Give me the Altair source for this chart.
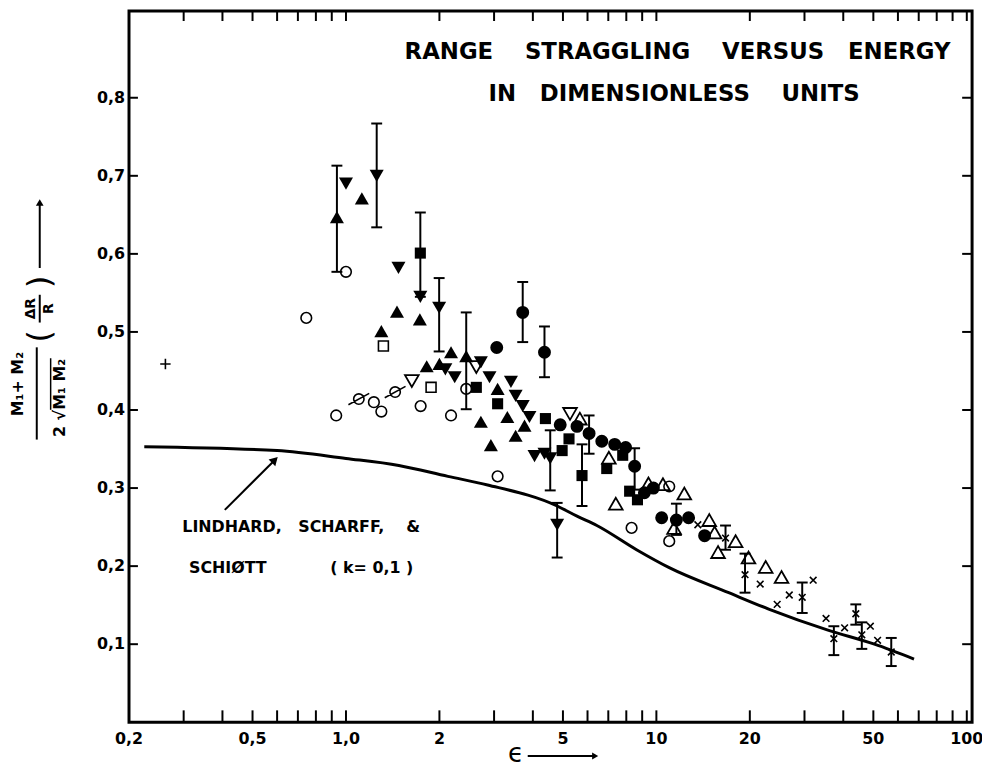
import altair as alt
import pandas as pd

FONT = "DejaVu Sans"

# ---------------- data ----------------
tri_up_filled_eps = [0.935, 1.125, 1.30, 1.46, 1.73, 1.82, 2.0, 2.18, 2.44, 2.72, 2.93, 3.08, 3.31, 3.52, 3.76]
tri_up_filled_val = [0.647, 0.671, 0.501, 0.526, 0.516, 0.456, 0.459, 0.474, 0.469, 0.385, 0.355, 0.427, 0.391, 0.367, 0.380]

tri_dn_filled_eps = [1.0, 1.256, 1.476, 1.736, 1.996, 2.09, 2.24, 2.72, 2.90, 3.40, 3.52, 3.71, 3.90, 4.05, 4.36, 4.55, 4.79]
tri_dn_filled_val = [0.690, 0.700, 0.582, 0.545, 0.531, 0.452, 0.442, 0.461, 0.442, 0.436, 0.418, 0.405, 0.391, 0.341, 0.344, 0.338, 0.253]

sq_filled_eps = [1.736, 2.63, 3.08, 4.39, 4.97, 5.23, 5.76, 6.92, 7.79, 8.20, 8.69]
sq_filled_val = [0.601, 0.429, 0.408, 0.389, 0.348, 0.363, 0.316, 0.325, 0.342, 0.296, 0.285]

circ_filled_eps = [3.06, 3.71, 4.36, 4.90, 5.55, 6.07, 6.67, 7.34, 7.96, 8.51, 9.15, 9.78, 10.4, 11.6, 12.7, 14.3]
circ_filled_val = [0.480, 0.525, 0.474, 0.381, 0.379, 0.370, 0.360, 0.356, 0.352, 0.328, 0.294, 0.300, 0.262, 0.259, 0.262, 0.239]

circ_open_eps = [0.745, 1.0, 0.93, 1.23, 1.30, 1.74, 2.18, 2.44, 3.08, 8.32, 11.0, 11.0]
circ_open_val = [0.518, 0.577, 0.393, 0.410, 0.398, 0.405, 0.393, 0.427, 0.315, 0.249, 0.302, 0.232]

sq_open_eps = [1.32, 1.88]
sq_open_val = [0.482, 0.429]

tri_up_open_eps = [5.67, 7.03, 7.40, 9.43, 10.5, 11.4, 12.3, 14.8, 15.4, 15.8, 18.0, 19.8, 22.5, 25.3]
tri_up_open_val = [0.389, 0.339, 0.280, 0.306, 0.305, 0.249, 0.293, 0.259, 0.243, 0.218, 0.232, 0.211, 0.199, 0.186]

tri_dn_open_eps = [1.63, 2.63, 5.27]
tri_dn_open_val = [0.437, 0.455, 0.395]

circ_slash_eps = [1.10, 1.44]
circ_slash_val = [0.414, 0.423]

x_mark_eps = [13.6, 16.7, 19.3, 21.6, 24.5, 26.8, 29.5, 32.0, 35.2, 37.3, 40.4, 43.9, 45.9, 48.9, 51.6, 57.1]
x_mark_val = [0.253, 0.236, 0.189, 0.177, 0.151, 0.163, 0.160, 0.182, 0.133, 0.107, 0.121, 0.139, 0.112, 0.123, 0.105, 0.090]

plus_eps = [0.262]
plus_val = [0.459]

err_eps = [0.935, 1.256, 1.736, 1.996, 2.44, 3.71, 4.36, 4.55, 4.79, 5.76, 6.07, 8.51, 11.6,
           16.7, 19.3, 29.5, 37.3, 43.9, 45.9, 57.1]
err_lo = [0.577, 0.634, 0.545, 0.475, 0.401, 0.487, 0.442, 0.297, 0.211, 0.277, 0.344, 0.298, 0.240,
          0.221, 0.166, 0.140, 0.086, 0.125, 0.094, 0.072]
err_hi = [0.713, 0.767, 0.653, 0.569, 0.525, 0.564, 0.507, 0.374, 0.281, 0.356, 0.393, 0.351, 0.280,
          0.252, 0.216, 0.179, 0.123, 0.151, 0.128, 0.108]

# Lindhard, Scharff & Schiott theory curve (k = 0.1)
theory_eps = [0.224, 0.6, 1.0, 1.48, 2.13, 2.86, 4.79, 5.55, 6.43, 8.63, 11.0, 17.1, 23.0, 35.7, 50.4, 67.6]
theory_val = [0.353, 0.348, 0.338, 0.329, 0.315, 0.304, 0.277, 0.264, 0.252, 0.221, 0.198, 0.166, 0.145, 0.118, 0.100, 0.081]

# axes
x_label_values = [0.2, 0.5, 1, 2, 5, 10, 20, 50, 100]
x_label_text = ["0,2", "0,5", "1,0", "2", "5", "10", "20", "50", "100"]
y_label_values = [0.1, 0.2, 0.3, 0.4, 0.5, 0.6, 0.7, 0.8]
y_label_text = ["0,1", "0,2", "0,3", "0,4", "0,5", "0,6", "0,7", "0,8"]
x_tick_values = [0.3, 0.4, 0.5, 0.6, 0.7, 0.8, 0.9, 1, 2, 3, 4, 5, 6, 7, 8, 9,
                 10, 20, 30, 40, 50, 60, 70, 80, 90, 100]
y_tick_values = [0.1, 0.2, 0.3, 0.4, 0.5, 0.6, 0.7, 0.8]

title_lines = ["RANGE\u00a0\u00a0\u00a0\u00a0STRAGGLING\u00a0\u00a0\u00a0\u00a0VERSUS\u00a0\u00a0\u00a0ENERGY",
               "IN\u00a0\u00a0\u00a0DIMENSIONLESS\u00a0\u00a0\u00a0\u00a0UNITS"]
lss_line1 = "LINDHARD,\u00a0\u00a0\u00a0SCHARFF,\u00a0\u00a0\u00a0\u00a0&"
lss_line2 = "SCHI\u00d8TT"
lss_k = "(\u00a0k=\u00a00,1\u00a0)"

# ---------------- chart ----------------
W, H = 850, 717
xs = alt.Scale(type="log", domain=[0.2, 104], nice=False)
ys = alt.Scale(domain=[0, 0.911], nice=False, zero=False)

theory_df = pd.DataFrame({"eps": theory_eps, "val": theory_val})
curve = alt.Chart(theory_df).mark_line(color="black", strokeWidth=3, interpolate="monotone").encode(
    x=alt.X("eps:Q", scale=xs, axis=None),
    y=alt.Y("val:Q", scale=ys, axis=None),
)


def pts(eps, val, shape, filled, size, sw=1.6):
    df = pd.DataFrame({"eps": eps, "val": val})
    return alt.Chart(df).mark_point(shape=shape, filled=filled, size=size, color="black",
                                    strokeWidth=sw, opacity=1).encode(
        x=alt.X("eps:Q", scale=xs, axis=None),
        y=alt.Y("val:Q", scale=ys, axis=None),
    )


X_PATH = "M-1,-1L1,1M-1,1L1,-1"
PLUS_PATH = "M-1,0L1,0M0,-1L0,1"
SLASH_CIRCLE = "M1,0A1,1,0,1,1,-1,0A1,1,0,1,1,1,0M-2,1.1L2,-1.1"

markers = [
    pts(tri_up_filled_eps, tri_up_filled_val, "triangle-up", True, 200),
    pts(tri_dn_filled_eps, tri_dn_filled_val, "triangle-down", True, 200),
    pts(sq_filled_eps, sq_filled_val, "square", True, 125),
    pts(circ_filled_eps, circ_filled_val, "circle", True, 170),
    pts(circ_open_eps, circ_open_val, "circle", False, 115),
    pts(sq_open_eps, sq_open_val, "square", False, 100),
    pts(tri_up_open_eps, tri_up_open_val, "triangle-up", False, 190, 1.8),
    pts(tri_dn_open_eps, tri_dn_open_val, "triangle-down", False, 190, 1.8),
    pts(circ_slash_eps, circ_slash_val, SLASH_CIRCLE, False, 110, 1.6),
    pts(x_mark_eps, x_mark_val, X_PATH, False, 45, 1.6),
    pts(plus_eps, plus_val, PLUS_PATH, False, 110, 1.6),
]

err_df = pd.DataFrame({"eps": err_eps, "lo": err_lo, "hi": err_hi})
err_rule = alt.Chart(err_df).mark_rule(color="black", strokeWidth=2).encode(
    x=alt.X("eps:Q", scale=xs, axis=None),
    y=alt.Y("lo:Q", scale=ys, axis=None),
    y2="hi:Q",
)
err_cap_lo = alt.Chart(err_df).mark_tick(color="black", orient="horizontal", size=11, thickness=2, opacity=1).encode(
    x=alt.X("eps:Q", scale=xs, axis=None),
    y=alt.Y("lo:Q", scale=ys, axis=None),
)
err_cap_hi = alt.Chart(err_df).mark_tick(color="black", orient="horizontal", size=11, thickness=2, opacity=1).encode(
    x=alt.X("eps:Q", scale=xs, axis=None),
    y=alt.Y("hi:Q", scale=ys, axis=None),
)

# inward-pointing ticks on all four sides, and tick labels
xt_df = pd.DataFrame({"t": x_tick_values})
yt_df = pd.DataFrame({"t": y_tick_values})
tick_bottom = alt.Chart(xt_df).mark_rule(color="black", strokeWidth=2).encode(
    x=alt.X("t:Q", scale=xs, axis=None), y=alt.value(H), y2=alt.value(H - 12))
tick_top = alt.Chart(xt_df).mark_rule(color="black", strokeWidth=2).encode(
    x=alt.X("t:Q", scale=xs, axis=None), y=alt.value(0), y2=alt.value(10))
tick_left = alt.Chart(yt_df).mark_rule(color="black", strokeWidth=2).encode(
    y=alt.Y("t:Q", scale=ys, axis=None), x=alt.value(0), x2=alt.value(9))
tick_right = alt.Chart(yt_df).mark_rule(color="black", strokeWidth=2).encode(
    y=alt.Y("t:Q", scale=ys, axis=None), x=alt.value(W), x2=alt.value(W - 10))

xl_df = pd.DataFrame({"v": x_label_values, "lab": x_label_text})
yl_df = pd.DataFrame({"v": y_label_values, "lab": y_label_text})
x_labels = alt.Chart(xl_df).mark_text(font=FONT, fontSize=16, fontWeight="bold", color="black",
                                      align="center", baseline="middle").encode(
    x=alt.X("v:Q", scale=xs, axis=None), y=alt.value(H + 17), text="lab:N")
y_labels = alt.Chart(yl_df).mark_text(font=FONT, fontSize=16, fontWeight="bold", color="black",
                                      align="right", baseline="middle").encode(
    y=alt.Y("v:Q", scale=ys, axis=None), x=alt.value(-4), text="lab:N")

one = pd.DataFrame({"a": [0]})


def dx(v):
    return alt.XDatum(v, type="quantitative", scale=xs, axis=None)


def dy(v):
    return alt.YDatum(v, type="quantitative", scale=ys, axis=None)


def text_at(txt, size, align="center", weight="bold"):
    return alt.Chart(one).mark_text(text=txt, font=FONT, fontSize=size, fontWeight=weight,
                                    align=align, baseline="middle", color="black")


# titles / annotations inside plot (positioned in data units through the scales)
title1 = text_at(title_lines[0], 23).encode(x=dx(11.7), y=dy(0.859))
title2 = text_at(title_lines[1], 23).encode(x=dx(11.4), y=dy(0.805))
lss1 = text_at(lss_line1, 16, align="left").encode(x=dx(0.297), y=dy(0.250))
lss2 = text_at(lss_line2, 16, align="left").encode(x=dx(0.312), y=dy(0.197))
lss3 = text_at(lss_k, 16, align="left").encode(x=dx(0.89), y=dy(0.197))
arrow_line = alt.Chart(one).mark_rule(color="black", strokeWidth=2).encode(
    x=dx(0.407), y=dy(0.272), x2=alt.X2Datum(0.59), y2=alt.Y2Datum(0.336))
arrow_head = alt.Chart(one).mark_point(shape="triangle-up", filled=True, size=90, angle=45,
                                       color="black", opacity=1).encode(x=dx(0.59), y=dy(0.336))


# y-axis title (outside plot, pixel positions relative to plot origin)
def ytxt(x, y, txt, size, weight="bold"):
    return alt.Chart(one).mark_text(text=txt, font=FONT, fontSize=size, fontWeight=weight,
                                    align="center", baseline="middle", color="black",
                                    angle=270).encode(x=alt.value(x), y=alt.value(y))


def prule(x1, y1, x2, y2, w=2):
    return alt.Chart(one).mark_rule(color="black", strokeWidth=w).encode(
        x=alt.value(x1), y=alt.value(y1), x2=alt.value(x2), y2=alt.value(y2))


ytitle = [
    ytxt(-112, 376, "M\u2081+ M\u2082", 16),
    prule(-93, 339, -93, 432),
    ytxt(-70, 390, "2 \u221aM\u2081 M\u2082", 16),
    prule(-79, 350, -79, 402, 1.5),
    ytxt(-99, 300, "\u0394R", 14),
    prule(-90, 286, -90, 314),
    ytxt(-81, 300, "R", 14),
    ytxt(-90, 328, "(", 32, "normal"),
    ytxt(-90, 273, ")", 32, "normal"),
    prule(-90, 259, -90, 195),
    alt.Chart(one).mark_point(shape="triangle-up", filled=True, size=60, color="black",
                              opacity=1).encode(x=alt.value(-90), y=alt.value(193)),
]

# x-axis title: epsilon with arrow (below the tick labels)
xtitle = [
    alt.Chart(one).mark_text(text="\u03f5", font=FONT, fontSize=26, color="black",
                             align="center", baseline="middle").encode(x=alt.value(390), y=alt.value(749)),
    prule(402, 751, 468, 751),
    alt.Chart(one).mark_point(shape="triangle-right", filled=True, size=50, color="black",
                              opacity=1).encode(x=alt.value(470), y=alt.value(751)),
]

chart = alt.layer(
    curve, *markers, err_rule, err_cap_lo, err_cap_hi,
    tick_bottom, tick_top, tick_left, tick_right, x_labels, y_labels,
    title1, title2, lss1, lss2, lss3, arrow_line, arrow_head,
    *ytitle, *xtitle,
).properties(
    width=W, height=H,
    autosize=alt.AutoSizeParams(type="none"),
    padding={"left": 122, "top": 0, "right": 10, "bottom": 43},
    background="white",
).configure_view(
    stroke="black", strokeWidth=3,
)

chart.save("out.html", embed_options={"renderer": "svg", "actions": False})
